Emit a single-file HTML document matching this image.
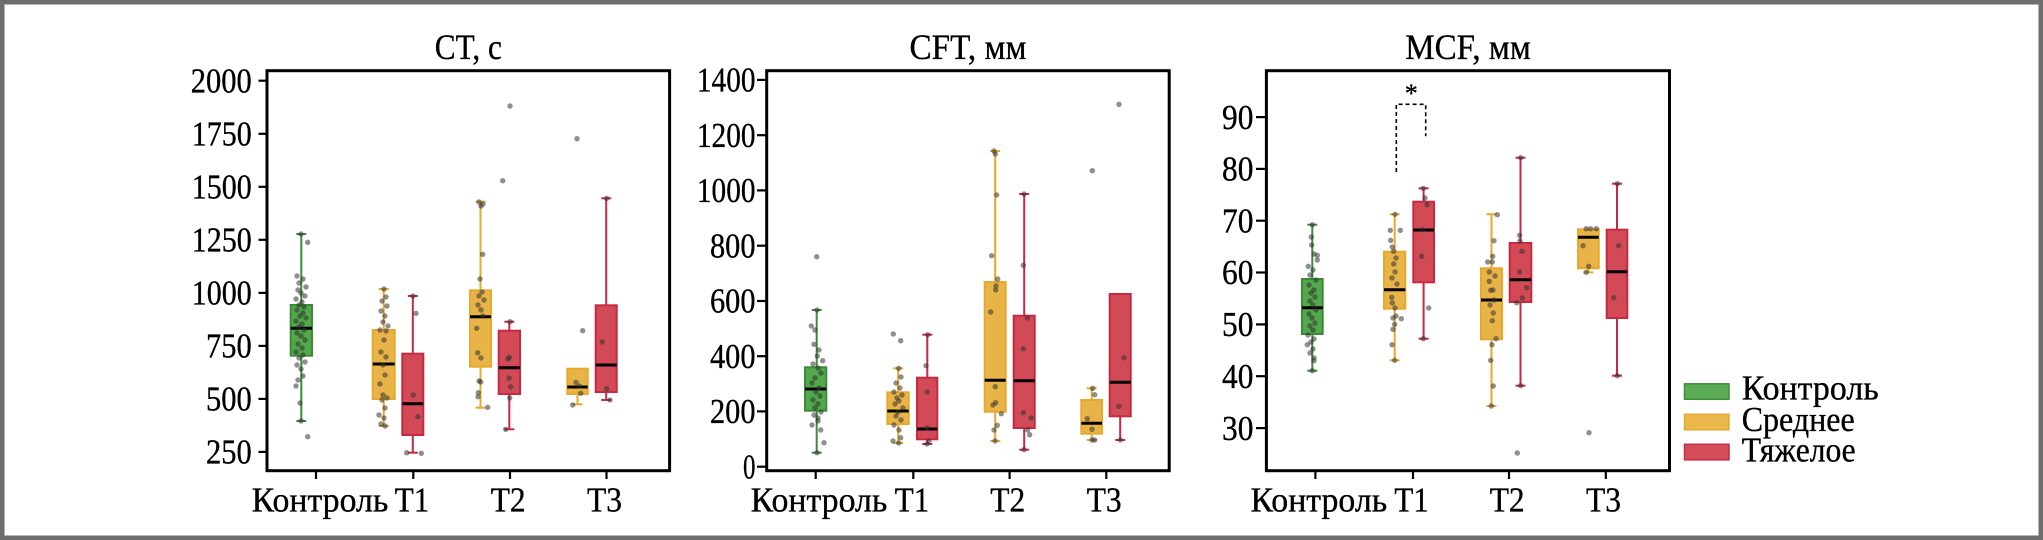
<!DOCTYPE html>
<html>
<head>
<meta charset="utf-8">
<style>
  html,body{margin:0;padding:0;background:#ffffff;}
  svg{display:block;font-family:"Times New Roman","Liberation Serif","DejaVu Serif","Noto Serif CJK SC",serif;}
  svg text{font-family:"Times New Roman","Liberation Serif","DejaVu Serif","Noto Serif CJK SC",serif !important;fill:#000;stroke:#000;stroke-width:0.35px;}
</style>
</head>
<body>
<svg width="2043" height="540" viewBox="0 0 2043 540" xmlns="http://www.w3.org/2000/svg">
  <rect x="0" y="0" width="2043" height="540" fill="#ffffff"/>
  <rect x="2.25" y="2.25" width="2038.5" height="535.5" fill="none" stroke="#6e6e6e" stroke-width="4.5"/>

  <!-- TITLES -->
  <text x="468.3" y="59.2" font-size="36" text-anchor="middle" textLength="67" lengthAdjust="spacingAndGlyphs">CT, с</text>
  <text x="968" y="59.2" font-size="36" text-anchor="middle" textLength="117" lengthAdjust="spacingAndGlyphs">CFT, мм</text>
  <text x="1468" y="59.2" font-size="36" text-anchor="middle" textLength="125.5" lengthAdjust="spacingAndGlyphs">MCF, мм</text>

  <!-- CT PLOT -->
  <g id="ct">
    <g stroke="#000" stroke-width="2.2">
      <line x1="258.5" y1="80.7" x2="267" y2="80.7"/>
      <line x1="258.5" y1="133.8" x2="267" y2="133.8"/>
      <line x1="258.5" y1="186.8" x2="267" y2="186.8"/>
      <line x1="258.5" y1="239.8" x2="267" y2="239.8"/>
      <line x1="258.5" y1="292.9" x2="267" y2="292.9"/>
      <line x1="258.5" y1="345.9" x2="267" y2="345.9"/>
      <line x1="258.5" y1="398.9" x2="267" y2="398.9"/>
      <line x1="258.5" y1="451.9" x2="267" y2="451.9"/>
      <line x1="316" y1="470.5" x2="316" y2="479"/>
      <line x1="413.3" y1="470.5" x2="413.3" y2="479"/>
      <line x1="510" y1="470.5" x2="510" y2="479"/>
      <line x1="606.5" y1="470.5" x2="606.5" y2="479"/>
    </g>
    <g font-size="35" text-anchor="end">
      <text x="251.7" y="92.4" textLength="61" lengthAdjust="spacingAndGlyphs">2000</text>
      <text x="251.7" y="145.5" textLength="60" lengthAdjust="spacingAndGlyphs">1750</text>
      <text x="251.7" y="198.5" textLength="60" lengthAdjust="spacingAndGlyphs">1500</text>
      <text x="251.7" y="251.5" textLength="60" lengthAdjust="spacingAndGlyphs">1250</text>
      <text x="251.7" y="304.6" textLength="60" lengthAdjust="spacingAndGlyphs">1000</text>
      <text x="251.7" y="357.6" textLength="45.7" lengthAdjust="spacingAndGlyphs">750</text>
      <text x="251.7" y="410.6" textLength="45.7" lengthAdjust="spacingAndGlyphs">500</text>
      <text x="251.7" y="463.6" textLength="45.7" lengthAdjust="spacingAndGlyphs">250</text>
    </g>
    <g font-size="35" text-anchor="middle">
      <text x="320" y="511.7" textLength="136.7" lengthAdjust="spacingAndGlyphs">Контроль</text>
      <text x="412" y="511.7" textLength="34.5" lengthAdjust="spacingAndGlyphs">T1</text>
      <text x="508.2" y="511.7" textLength="35" lengthAdjust="spacingAndGlyphs">T2</text>
      <text x="604.5" y="511.7" textLength="35" lengthAdjust="spacingAndGlyphs">T3</text>
    </g>

    <g stroke="#3c8c37" stroke-width="2">
      <line x1="301.3" y1="234" x2="301.3" y2="305"/>
      <line x1="301.3" y1="355.7" x2="301.3" y2="421"/>
      <line x1="296.3" y1="234" x2="306.3" y2="234"/>
      <line x1="296.3" y1="421" x2="306.3" y2="421"/>
      <rect x="290.7" y="305" width="21.3" height="50.7" fill="#52a84b"/>
    </g>
    <line x1="290.7" y1="328.3" x2="312" y2="328.3" stroke="#000" stroke-width="3"/>
    <g stroke="#e6a92e" stroke-width="2">
      <line x1="383.7" y1="289" x2="383.7" y2="330"/>
      <line x1="383.7" y1="399" x2="383.7" y2="426"/>
      <line x1="378.7" y1="289" x2="388.7" y2="289"/>
      <line x1="378.7" y1="426" x2="388.7" y2="426"/>
      <rect x="372.7" y="330" width="22" height="69" fill="#e9b447"/>
    </g>
    <line x1="372.7" y1="364" x2="394.7" y2="364" stroke="#000" stroke-width="3"/>
    <g stroke="#c52a42" stroke-width="2">
      <line x1="412.8" y1="296" x2="412.8" y2="353.7"/>
      <line x1="412.8" y1="435" x2="412.8" y2="452.7"/>
      <line x1="407.8" y1="296" x2="417.8" y2="296"/>
      <line x1="407.8" y1="452.7" x2="417.8" y2="452.7"/>
      <rect x="402.3" y="353.7" width="21" height="81.3" fill="#d14a55"/>
    </g>
    <line x1="402.3" y1="403.7" x2="423.3" y2="403.7" stroke="#000" stroke-width="3"/>
    <g stroke="#e6a92e" stroke-width="2">
      <line x1="480.5" y1="201.7" x2="480.5" y2="290.3"/>
      <line x1="480.5" y1="366.7" x2="480.5" y2="407.7"/>
      <line x1="475.5" y1="201.7" x2="485.5" y2="201.7"/>
      <line x1="475.5" y1="407.7" x2="485.5" y2="407.7"/>
      <rect x="470" y="290.3" width="21" height="76.4" fill="#e9b447"/>
    </g>
    <line x1="470" y1="316.7" x2="491" y2="316.7" stroke="#000" stroke-width="3"/>
    <g stroke="#c52a42" stroke-width="2">
      <line x1="509.3" y1="321.7" x2="509.3" y2="330.7"/>
      <line x1="509.3" y1="394" x2="509.3" y2="429.3"/>
      <line x1="504.3" y1="321.7" x2="514.3" y2="321.7"/>
      <line x1="504.3" y1="429.3" x2="514.3" y2="429.3"/>
      <rect x="498.7" y="330.7" width="21.3" height="63.3" fill="#d14a55"/>
    </g>
    <line x1="498.7" y1="367.7" x2="520" y2="367.7" stroke="#000" stroke-width="3"/>
    <g stroke="#e6a92e" stroke-width="2">
      <line x1="577.5" y1="394" x2="577.5" y2="404.3"/>
      <line x1="572.5" y1="404.3" x2="582.5" y2="404.3"/>
      <rect x="567.3" y="368.7" width="20.4" height="25.3" fill="#e9b447"/>
    </g>
    <line x1="567.3" y1="387" x2="587.7" y2="387" stroke="#000" stroke-width="3"/>
    <g stroke="#c52a42" stroke-width="2">
      <line x1="606.2" y1="198.3" x2="606.2" y2="305.3"/>
      <line x1="606.2" y1="392" x2="606.2" y2="400"/>
      <line x1="601.2" y1="198.3" x2="611.2" y2="198.3"/>
      <line x1="601.2" y1="400" x2="611.2" y2="400"/>
      <rect x="595.7" y="305.3" width="21" height="86.7" fill="#d14a55"/>
    </g>
    <line x1="595.7" y1="365" x2="616.7" y2="365" stroke="#000" stroke-width="3"/>

    <g fill="#333333" fill-opacity="0.55">
      <circle cx="307.7" cy="242.3" r="2.7"/><circle cx="301" cy="234" r="2.7"/><circle cx="297" cy="276" r="2.7"/><circle cx="303" cy="279" r="2.7"/><circle cx="299" cy="283" r="2.7"/><circle cx="306" cy="287" r="2.7"/><circle cx="298" cy="290" r="2.7"/><circle cx="301" cy="293" r="2.7"/><circle cx="305" cy="296" r="2.7"/><circle cx="296" cy="299" r="2.7"/><circle cx="302" cy="302" r="2.7"/><circle cx="299" cy="305" r="2.7"/><circle cx="304" cy="307" r="2.7"/><circle cx="297" cy="310" r="2.7"/><circle cx="303" cy="313" r="2.7"/><circle cx="300" cy="316" r="2.7"/><circle cx="306" cy="318" r="2.7"/><circle cx="296" cy="321" r="2.7"/><circle cx="302" cy="324" r="2.7"/><circle cx="299" cy="327" r="2.7"/><circle cx="304" cy="330" r="2.7"/><circle cx="297" cy="333" r="2.7"/><circle cx="301" cy="336" r="2.7"/><circle cx="305" cy="340" r="2.7"/><circle cx="298" cy="344" r="2.7"/><circle cx="302" cy="348" r="2.7"/><circle cx="296" cy="352" r="2.7"/><circle cx="303" cy="355" r="2.7"/><circle cx="299" cy="358" r="2.7"/><circle cx="305" cy="362" r="2.7"/><circle cx="297" cy="365" r="2.7"/><circle cx="301" cy="369" r="2.7"/><circle cx="303" cy="376" r="2.7"/><circle cx="298" cy="380" r="2.7"/><circle cx="296" cy="386" r="2.7"/><circle cx="300" cy="403" r="2.7"/><circle cx="301" cy="421" r="2.7"/><circle cx="307.7" cy="436.7" r="2.7"/>
      <circle cx="384" cy="289" r="2.7"/><circle cx="386" cy="297" r="2.7"/><circle cx="382" cy="301" r="2.7"/><circle cx="387" cy="306" r="2.7"/><circle cx="381" cy="311" r="2.7"/><circle cx="385" cy="316" r="2.7"/><circle cx="383" cy="322" r="2.7"/><circle cx="388" cy="326" r="2.7"/><circle cx="380" cy="330" r="2.7"/><circle cx="386" cy="331" r="2.7"/><circle cx="384" cy="340" r="2.7"/><circle cx="381" cy="352" r="2.7"/><circle cx="386" cy="357" r="2.7"/><circle cx="383" cy="365" r="2.7"/><circle cx="385" cy="375" r="2.7"/><circle cx="380" cy="384" r="2.7"/><circle cx="383" cy="395" r="2.7"/><circle cx="387" cy="398" r="2.7"/><circle cx="382" cy="400" r="2.7"/><circle cx="385" cy="408" r="2.7"/><circle cx="379" cy="415" r="2.7"/><circle cx="384" cy="418" r="2.7"/><circle cx="381" cy="424" r="2.7"/><circle cx="385" cy="426" r="2.7"/>
      <circle cx="413" cy="296" r="2.7"/><circle cx="416" cy="313.3" r="2.7"/><circle cx="413.3" cy="395" r="2.7"/><circle cx="418" cy="416.7" r="2.7"/><circle cx="406.7" cy="452.7" r="2.7"/><circle cx="421.3" cy="453.3" r="2.7"/>
      <circle cx="479" cy="202" r="2.7"/><circle cx="483" cy="204" r="2.7"/><circle cx="481" cy="206" r="2.7"/><circle cx="482.7" cy="254.3" r="2.7"/><circle cx="480" cy="279" r="2.7"/><circle cx="482" cy="292" r="2.7"/><circle cx="479" cy="296" r="2.7"/><circle cx="484" cy="300" r="2.7"/><circle cx="478" cy="305" r="2.7"/><circle cx="481" cy="310" r="2.7"/><circle cx="483" cy="316" r="2.7"/><circle cx="476.7" cy="328.3" r="2.7"/><circle cx="477.7" cy="352.7" r="2.7"/><circle cx="481" cy="358" r="2.7"/><circle cx="479" cy="381" r="2.7"/><circle cx="480.7" cy="382" r="2.7"/><circle cx="478.3" cy="392.7" r="2.7"/><circle cx="478" cy="396.7" r="2.7"/><circle cx="487.7" cy="407.3" r="2.7"/>
      <circle cx="510" cy="106" r="2.7"/><circle cx="502.7" cy="180.7" r="2.7"/><circle cx="510" cy="321.7" r="2.7"/><circle cx="509.3" cy="357.3" r="2.7"/><circle cx="508" cy="359" r="2.7"/><circle cx="509" cy="378" r="2.7"/><circle cx="510.7" cy="387" r="2.7"/><circle cx="509.7" cy="398" r="2.7"/><circle cx="505.7" cy="429.3" r="2.7"/>
      <circle cx="577" cy="138.7" r="2.7"/><circle cx="582.7" cy="330.7" r="2.7"/><circle cx="576" cy="382.3" r="2.7"/><circle cx="579.3" cy="386" r="2.7"/><circle cx="580.7" cy="393.3" r="2.7"/><circle cx="572.7" cy="405" r="2.7"/>
      <circle cx="606.7" cy="198.3" r="2.7"/><circle cx="602.3" cy="342" r="2.7"/><circle cx="606.7" cy="388.7" r="2.7"/><circle cx="610" cy="400" r="2.7"/>
    </g>
    <rect x="267" y="70.7" width="402.6" height="400" fill="none" stroke="#000" stroke-width="3"/>
  </g>

  <!-- CFT PLOT -->
  <g id="cft">
    <g stroke="#000" stroke-width="2.2">
      <line x1="757" y1="79.9" x2="766.7" y2="79.9"/>
      <line x1="757" y1="135.2" x2="766.7" y2="135.2"/>
      <line x1="757" y1="190.4" x2="766.7" y2="190.4"/>
      <line x1="757" y1="245.7" x2="766.7" y2="245.7"/>
      <line x1="757" y1="301" x2="766.7" y2="301"/>
      <line x1="757" y1="356.2" x2="766.7" y2="356.2"/>
      <line x1="757" y1="411.4" x2="766.7" y2="411.4"/>
      <line x1="757" y1="466.7" x2="766.7" y2="466.7"/>
      <line x1="815.7" y1="470.5" x2="815.7" y2="479"/>
      <line x1="913.3" y1="470.5" x2="913.3" y2="479"/>
      <line x1="1009.6" y1="470.5" x2="1009.6" y2="479"/>
      <line x1="1106.3" y1="470.5" x2="1106.3" y2="479"/>
    </g>
    <g font-size="35" text-anchor="end">
      <text x="755.5" y="91.6" textLength="58.6" lengthAdjust="spacingAndGlyphs">1400</text>
      <text x="755.5" y="146.9" textLength="58.6" lengthAdjust="spacingAndGlyphs">1200</text>
      <text x="755.5" y="202.1" textLength="58.6" lengthAdjust="spacingAndGlyphs">1000</text>
      <text x="755.5" y="257.4" textLength="45.5" lengthAdjust="spacingAndGlyphs">800</text>
      <text x="755.5" y="312.7" textLength="45.5" lengthAdjust="spacingAndGlyphs">600</text>
      <text x="755.5" y="367.9" textLength="45.5" lengthAdjust="spacingAndGlyphs">400</text>
      <text x="755.5" y="423.1" textLength="45.5" lengthAdjust="spacingAndGlyphs">200</text>
      <text x="755.5" y="478.4" textLength="12.5" lengthAdjust="spacingAndGlyphs">0</text>
    </g>
    <g font-size="35" text-anchor="middle">
      <text x="819" y="511.7" textLength="136.7" lengthAdjust="spacingAndGlyphs">Контроль</text>
      <text x="912" y="511.7" textLength="34.5" lengthAdjust="spacingAndGlyphs">T1</text>
      <text x="1007.8" y="511.7" textLength="35" lengthAdjust="spacingAndGlyphs">T2</text>
      <text x="1104.2" y="511.7" textLength="35" lengthAdjust="spacingAndGlyphs">T3</text>
    </g>

    <g stroke="#3c8c37" stroke-width="2">
      <line x1="816.7" y1="310" x2="816.7" y2="367.3"/>
      <line x1="816.7" y1="410.7" x2="816.7" y2="452.7"/>
      <line x1="811.7" y1="310" x2="821.7" y2="310"/>
      <line x1="811.7" y1="452.7" x2="821.7" y2="452.7"/>
      <rect x="805" y="367.3" width="21.3" height="43.4" fill="#52a84b"/>
    </g>
    <line x1="805" y1="389" x2="826.3" y2="389" stroke="#000" stroke-width="3"/>
    <g stroke="#e6a92e" stroke-width="2">
      <line x1="898.2" y1="368.3" x2="898.2" y2="392.3"/>
      <line x1="898.2" y1="424" x2="898.2" y2="443"/>
      <line x1="893.2" y1="368.3" x2="903.2" y2="368.3"/>
      <line x1="893.2" y1="443" x2="903.2" y2="443"/>
      <rect x="887.3" y="392.3" width="21.4" height="31.7" fill="#e9b447"/>
    </g>
    <line x1="887.3" y1="411" x2="908.7" y2="411" stroke="#000" stroke-width="3"/>
    <g stroke="#c52a42" stroke-width="2">
      <line x1="927.3" y1="334.7" x2="927.3" y2="377.7"/>
      <line x1="927.3" y1="439.3" x2="927.3" y2="444"/>
      <line x1="922.3" y1="334.7" x2="932.3" y2="334.7"/>
      <line x1="922.3" y1="444" x2="932.3" y2="444"/>
      <rect x="917" y="377.7" width="20.3" height="61.6" fill="#d14a55"/>
    </g>
    <line x1="917" y1="429" x2="937.3" y2="429" stroke="#000" stroke-width="3"/>
    <g stroke="#e6a92e" stroke-width="2">
      <line x1="995.2" y1="151" x2="995.2" y2="282"/>
      <line x1="995.2" y1="411.7" x2="995.2" y2="441"/>
      <line x1="990.2" y1="151" x2="1000.2" y2="151"/>
      <line x1="990.2" y1="441" x2="1000.2" y2="441"/>
      <rect x="984.7" y="282" width="21" height="129.7" fill="#e9b447"/>
    </g>
    <line x1="984.7" y1="380.3" x2="1005.7" y2="380.3" stroke="#000" stroke-width="3"/>
    <g stroke="#c52a42" stroke-width="2">
      <line x1="1024.2" y1="194" x2="1024.2" y2="315.7"/>
      <line x1="1024.2" y1="428" x2="1024.2" y2="449.7"/>
      <line x1="1019.2" y1="194" x2="1029.2" y2="194"/>
      <line x1="1019.2" y1="449.7" x2="1029.2" y2="449.7"/>
      <rect x="1013.7" y="315.7" width="21" height="112.3" fill="#d14a55"/>
    </g>
    <line x1="1013.7" y1="380.7" x2="1034.7" y2="380.7" stroke="#000" stroke-width="3"/>
    <g stroke="#e6a92e" stroke-width="2">
      <line x1="1091.7" y1="388.3" x2="1091.7" y2="400"/>
      <line x1="1091.7" y1="433.7" x2="1091.7" y2="440"/>
      <line x1="1086.7" y1="388.3" x2="1096.7" y2="388.3"/>
      <line x1="1086.7" y1="440" x2="1096.7" y2="440"/>
      <rect x="1081.3" y="400" width="20.7" height="33.7" fill="#e9b447"/>
    </g>
    <line x1="1081.3" y1="423.3" x2="1102" y2="423.3" stroke="#000" stroke-width="3"/>
    <g stroke="#c52a42" stroke-width="2">
      <line x1="1120.2" y1="416.3" x2="1120.2" y2="440"/>
      <line x1="1115.2" y1="440" x2="1125.2" y2="440"/>
      <rect x="1109.7" y="294" width="21" height="122.3" fill="#d14a55"/>
    </g>
    <line x1="1109.7" y1="382.3" x2="1130.7" y2="382.3" stroke="#000" stroke-width="3"/>

    <g fill="#333333" fill-opacity="0.55">
      <circle cx="816.7" cy="256.7" r="2.7"/><circle cx="817" cy="310" r="2.7"/><circle cx="811.3" cy="326" r="2.7"/><circle cx="815" cy="330" r="2.7"/><circle cx="814" cy="344.3" r="2.7"/><circle cx="819" cy="350" r="2.7"/><circle cx="817.3" cy="356" r="2.7"/><circle cx="822.7" cy="360.7" r="2.7"/><circle cx="813" cy="364" r="2.7"/><circle cx="818" cy="368" r="2.7"/><circle cx="821" cy="373" r="2.7"/><circle cx="815" cy="378" r="2.7"/><circle cx="812" cy="383" r="2.7"/><circle cx="819" cy="388" r="2.7"/><circle cx="816" cy="392" r="2.7"/><circle cx="820" cy="396" r="2.7"/><circle cx="813" cy="400" r="2.7"/><circle cx="818" cy="404" r="2.7"/><circle cx="815" cy="408" r="2.7"/><circle cx="821" cy="412" r="2.7"/><circle cx="814" cy="415" r="2.7"/><circle cx="818" cy="418" r="2.7"/><circle cx="818" cy="421" r="2.7"/><circle cx="812" cy="425" r="2.7"/><circle cx="820.7" cy="430" r="2.7"/><circle cx="824" cy="442.7" r="2.7"/><circle cx="817" cy="452.7" r="2.7"/>
      <circle cx="893.3" cy="334" r="2.7"/><circle cx="900.7" cy="340.7" r="2.7"/><circle cx="898.7" cy="368.3" r="2.7"/><circle cx="901" cy="377" r="2.7"/><circle cx="896" cy="383" r="2.7"/><circle cx="900" cy="388" r="2.7"/><circle cx="894" cy="392" r="2.7"/><circle cx="902" cy="395" r="2.7"/><circle cx="897" cy="398" r="2.7"/><circle cx="899" cy="401" r="2.7"/><circle cx="895" cy="404" r="2.7"/><circle cx="903" cy="408" r="2.7"/><circle cx="898" cy="412" r="2.7"/><circle cx="896" cy="416" r="2.7"/><circle cx="901" cy="420" r="2.7"/><circle cx="894" cy="425" r="2.7"/><circle cx="899" cy="430" r="2.7"/><circle cx="900.7" cy="437.7" r="2.7"/><circle cx="893" cy="441" r="2.7"/><circle cx="898.7" cy="443" r="2.7"/>
      <circle cx="927.7" cy="334.7" r="2.7"/><circle cx="926" cy="365.7" r="2.7"/><circle cx="927.3" cy="392" r="2.7"/><circle cx="927" cy="428" r="2.7"/><circle cx="929" cy="441" r="2.7"/><circle cx="927" cy="444" r="2.7"/>
      <circle cx="994" cy="151" r="2.7"/><circle cx="995.3" cy="154" r="2.7"/><circle cx="996.7" cy="195" r="2.7"/><circle cx="991.7" cy="255.7" r="2.7"/><circle cx="997.7" cy="279" r="2.7"/><circle cx="996" cy="286" r="2.7"/><circle cx="995.7" cy="290" r="2.7"/><circle cx="990.7" cy="312" r="2.7"/><circle cx="995.3" cy="386.7" r="2.7"/><circle cx="995.7" cy="402.7" r="2.7"/><circle cx="993" cy="405" r="2.7"/><circle cx="1001.3" cy="413.7" r="2.7"/><circle cx="997.3" cy="425.3" r="2.7"/><circle cx="994" cy="430" r="2.7"/><circle cx="995" cy="441" r="2.7"/>
      <circle cx="1024" cy="194" r="2.7"/><circle cx="1023.3" cy="265.3" r="2.7"/><circle cx="1027.3" cy="318" r="2.7"/><circle cx="1023.3" cy="348.7" r="2.7"/><circle cx="1023.3" cy="412.7" r="2.7"/><circle cx="1031" cy="418" r="2.7"/><circle cx="1027.7" cy="430" r="2.7"/><circle cx="1029.7" cy="434.7" r="2.7"/><circle cx="1024" cy="449.7" r="2.7"/>
      <circle cx="1092.3" cy="170.7" r="2.7"/><circle cx="1092.7" cy="388.3" r="2.7"/><circle cx="1094.7" cy="394.7" r="2.7"/><circle cx="1087.3" cy="418.7" r="2.7"/><circle cx="1092" cy="429.3" r="2.7"/><circle cx="1094.7" cy="440" r="2.7"/><circle cx="1092" cy="440" r="2.7"/>
      <circle cx="1119" cy="104.3" r="2.7"/><circle cx="1124" cy="357.7" r="2.7"/><circle cx="1119" cy="406.3" r="2.7"/><circle cx="1120.3" cy="440" r="2.7"/>
    </g>
    <rect x="766.7" y="70.7" width="402.5" height="400" fill="none" stroke="#000" stroke-width="3"/>
  </g>

  <!-- MCF PLOT -->
  <g id="mcf">
    <g stroke="#000" stroke-width="2.2">
      <line x1="1256" y1="117.1" x2="1266.4" y2="117.1"/>
      <line x1="1256" y1="168.9" x2="1266.4" y2="168.9"/>
      <line x1="1256" y1="220.7" x2="1266.4" y2="220.7"/>
      <line x1="1256" y1="272.5" x2="1266.4" y2="272.5"/>
      <line x1="1256" y1="324.4" x2="1266.4" y2="324.4"/>
      <line x1="1256" y1="376.2" x2="1266.4" y2="376.2"/>
      <line x1="1256" y1="428.1" x2="1266.4" y2="428.1"/>
      <line x1="1315.4" y1="470.5" x2="1315.4" y2="479"/>
      <line x1="1413" y1="470.5" x2="1413" y2="479"/>
      <line x1="1509" y1="470.5" x2="1509" y2="479"/>
      <line x1="1605.8" y1="470.5" x2="1605.8" y2="479"/>
    </g>
    <g font-size="35" text-anchor="end">
      <text x="1253.4" y="128.8" textLength="31.4" lengthAdjust="spacingAndGlyphs">90</text>
      <text x="1253.4" y="180.6" textLength="31.4" lengthAdjust="spacingAndGlyphs">80</text>
      <text x="1253.4" y="232.4" textLength="31.4" lengthAdjust="spacingAndGlyphs">70</text>
      <text x="1253.4" y="284.2" textLength="31.4" lengthAdjust="spacingAndGlyphs">60</text>
      <text x="1253.4" y="336.1" textLength="31.4" lengthAdjust="spacingAndGlyphs">50</text>
      <text x="1253.4" y="387.9" textLength="31.4" lengthAdjust="spacingAndGlyphs">40</text>
      <text x="1253.4" y="439.8" textLength="31.4" lengthAdjust="spacingAndGlyphs">30</text>
    </g>
    <g font-size="35" text-anchor="middle">
      <text x="1318.8" y="511.7" textLength="136.7" lengthAdjust="spacingAndGlyphs">Контроль</text>
      <text x="1411.6" y="511.7" textLength="34.5" lengthAdjust="spacingAndGlyphs">T1</text>
      <text x="1507.2" y="511.7" textLength="35" lengthAdjust="spacingAndGlyphs">T2</text>
      <text x="1603.5" y="511.7" textLength="35" lengthAdjust="spacingAndGlyphs">T3</text>
    </g>

    <g stroke="#3c8c37" stroke-width="2">
      <line x1="1312.3" y1="224.7" x2="1312.3" y2="279"/>
      <line x1="1312.3" y1="334" x2="1312.3" y2="370.7"/>
      <line x1="1307.3" y1="224.7" x2="1317.3" y2="224.7"/>
      <line x1="1307.3" y1="370.7" x2="1317.3" y2="370.7"/>
      <rect x="1302" y="279" width="20.7" height="55" fill="#52a84b"/>
    </g>
    <line x1="1302" y1="307.7" x2="1322.7" y2="307.7" stroke="#000" stroke-width="3"/>
    <g stroke="#e6a92e" stroke-width="2">
      <line x1="1394.7" y1="214.3" x2="1394.7" y2="251.7"/>
      <line x1="1394.7" y1="308.7" x2="1394.7" y2="360.3"/>
      <line x1="1389.7" y1="214.3" x2="1399.7" y2="214.3"/>
      <line x1="1389.7" y1="360.3" x2="1399.7" y2="360.3"/>
      <rect x="1384" y="251.7" width="21.3" height="57" fill="#e9b447"/>
    </g>
    <line x1="1384" y1="289.7" x2="1405.3" y2="289.7" stroke="#000" stroke-width="3"/>
    <g stroke="#c52a42" stroke-width="2">
      <line x1="1423.6" y1="188.3" x2="1423.6" y2="201.7"/>
      <line x1="1423.6" y1="282.3" x2="1423.6" y2="338.7"/>
      <line x1="1418.6" y1="188.3" x2="1428.6" y2="188.3"/>
      <line x1="1418.6" y1="338.7" x2="1428.6" y2="338.7"/>
      <rect x="1413.3" y="201.7" width="20.7" height="80.6" fill="#d14a55"/>
    </g>
    <line x1="1413.3" y1="230" x2="1434" y2="230" stroke="#000" stroke-width="3"/>
    <g stroke="#e6a92e" stroke-width="2">
      <line x1="1491.5" y1="214.3" x2="1491.5" y2="268.3"/>
      <line x1="1491.5" y1="339.3" x2="1491.5" y2="406"/>
      <line x1="1486.5" y1="214.3" x2="1496.5" y2="214.3"/>
      <line x1="1486.5" y1="406" x2="1496.5" y2="406"/>
      <rect x="1481" y="268.3" width="21" height="71" fill="#e9b447"/>
    </g>
    <line x1="1481" y1="300" x2="1502" y2="300" stroke="#000" stroke-width="3"/>
    <g stroke="#c52a42" stroke-width="2">
      <line x1="1520.5" y1="157.7" x2="1520.5" y2="243"/>
      <line x1="1520.5" y1="302" x2="1520.5" y2="385.7"/>
      <line x1="1515.5" y1="157.7" x2="1525.5" y2="157.7"/>
      <line x1="1515.5" y1="385.7" x2="1525.5" y2="385.7"/>
      <rect x="1509.7" y="243" width="21.6" height="59" fill="#d14a55"/>
    </g>
    <line x1="1509.7" y1="279.7" x2="1531.3" y2="279.7" stroke="#000" stroke-width="3"/>
    <g stroke="#e6a92e" stroke-width="2">
      <line x1="1588.3" y1="268.3" x2="1588.3" y2="272.3"/>
      <line x1="1583.3" y1="272.3" x2="1593.3" y2="272.3"/>
      <rect x="1578" y="229.3" width="20.7" height="39" fill="#e9b447"/>
    </g>
    <line x1="1578" y1="237.3" x2="1598.7" y2="237.3" stroke="#000" stroke-width="3"/>
    <g stroke="#c52a42" stroke-width="2">
      <line x1="1617" y1="183.7" x2="1617" y2="229.7"/>
      <line x1="1617" y1="318" x2="1617" y2="375.7"/>
      <line x1="1612" y1="183.7" x2="1622" y2="183.7"/>
      <line x1="1612" y1="375.7" x2="1622" y2="375.7"/>
      <rect x="1606.7" y="229.7" width="20.6" height="88.3" fill="#d14a55"/>
    </g>
    <line x1="1606.7" y1="271.7" x2="1627.3" y2="271.7" stroke="#000" stroke-width="3"/>

    <g fill="#333333" fill-opacity="0.55">
      <circle cx="1312.3" cy="224.7" r="2.7"/><circle cx="1311.3" cy="237" r="2.7"/><circle cx="1311.7" cy="245" r="2.7"/><circle cx="1314" cy="254" r="2.7"/><circle cx="1317.3" cy="255.3" r="2.7"/><circle cx="1317.3" cy="260" r="2.7"/><circle cx="1308.3" cy="266.3" r="2.7"/><circle cx="1313" cy="270" r="2.7"/><circle cx="1310" cy="275" r="2.7"/><circle cx="1316" cy="280" r="2.7"/><circle cx="1309" cy="285" r="2.7"/><circle cx="1314" cy="290" r="2.7"/><circle cx="1311" cy="293" r="2.7"/><circle cx="1315" cy="297" r="2.7"/><circle cx="1310" cy="301" r="2.7"/><circle cx="1313" cy="305" r="2.7"/><circle cx="1316" cy="310" r="2.7"/><circle cx="1309" cy="314" r="2.7"/><circle cx="1312" cy="318" r="2.7"/><circle cx="1315" cy="323" r="2.7"/><circle cx="1310" cy="326" r="2.7"/><circle cx="1313" cy="330" r="2.7"/><circle cx="1308" cy="335" r="2.7"/><circle cx="1314" cy="339" r="2.7"/><circle cx="1311" cy="342" r="2.7"/><circle cx="1307.3" cy="344.7" r="2.7"/><circle cx="1313" cy="349" r="2.7"/><circle cx="1310" cy="353" r="2.7"/><circle cx="1314" cy="358" r="2.7"/><circle cx="1314" cy="360.7" r="2.7"/><circle cx="1312.3" cy="370.7" r="2.7"/>
      <circle cx="1395" cy="214.3" r="2.7"/><circle cx="1390.3" cy="230.3" r="2.7"/><circle cx="1400.3" cy="230.3" r="2.7"/><circle cx="1390.7" cy="240.3" r="2.7"/><circle cx="1392.3" cy="247" r="2.7"/><circle cx="1393.7" cy="251.3" r="2.7"/><circle cx="1396" cy="258" r="2.7"/><circle cx="1393.7" cy="264" r="2.7"/><circle cx="1395" cy="272" r="2.7"/><circle cx="1392" cy="278" r="2.7"/><circle cx="1397" cy="284" r="2.7"/><circle cx="1391.7" cy="297.3" r="2.7"/><circle cx="1392.3" cy="302.7" r="2.7"/><circle cx="1395" cy="308" r="2.7"/><circle cx="1396" cy="316" r="2.7"/><circle cx="1393" cy="318" r="2.7"/><circle cx="1401.3" cy="318.7" r="2.7"/><circle cx="1394.7" cy="324.3" r="2.7"/><circle cx="1393" cy="329.3" r="2.7"/><circle cx="1392" cy="344.7" r="2.7"/><circle cx="1394.7" cy="360.3" r="2.7"/>
      <circle cx="1423.3" cy="188.3" r="2.7"/><circle cx="1425" cy="198" r="2.7"/><circle cx="1427" cy="204.7" r="2.7"/><circle cx="1422.7" cy="229.7" r="2.7"/><circle cx="1421.7" cy="256.3" r="2.7"/><circle cx="1428.7" cy="308" r="2.7"/><circle cx="1423.3" cy="338.7" r="2.7"/>
      <circle cx="1497.3" cy="214.7" r="2.7"/><circle cx="1494" cy="240.7" r="2.7"/><circle cx="1492.7" cy="256.3" r="2.7"/><circle cx="1487.7" cy="262" r="2.7"/><circle cx="1492.3" cy="262" r="2.7"/><circle cx="1489.3" cy="272" r="2.7"/><circle cx="1495" cy="276" r="2.7"/><circle cx="1489.3" cy="281.3" r="2.7"/><circle cx="1493" cy="290" r="2.7"/><circle cx="1490.7" cy="290.3" r="2.7"/><circle cx="1494" cy="300" r="2.7"/><circle cx="1493.3" cy="313" r="2.7"/><circle cx="1490" cy="305" r="2.7"/><circle cx="1492.3" cy="320.7" r="2.7"/><circle cx="1496" cy="338.7" r="2.7"/><circle cx="1492" cy="344.7" r="2.7"/><circle cx="1490.7" cy="360.3" r="2.7"/><circle cx="1493.3" cy="386" r="2.7"/><circle cx="1491.3" cy="406" r="2.7"/>
      <circle cx="1520.7" cy="157.7" r="2.7"/><circle cx="1519.7" cy="235.3" r="2.7"/><circle cx="1520" cy="241" r="2.7"/><circle cx="1522" cy="251.3" r="2.7"/><circle cx="1519.7" cy="272" r="2.7"/><circle cx="1526.7" cy="287.7" r="2.7"/><circle cx="1522.3" cy="298" r="2.7"/><circle cx="1516.7" cy="302.7" r="2.7"/><circle cx="1520.7" cy="385.7" r="2.7"/><circle cx="1517.3" cy="453" r="2.7"/>
      <circle cx="1586.3" cy="228.7" r="2.7"/><circle cx="1590.7" cy="228.7" r="2.7"/><circle cx="1596.3" cy="228.7" r="2.7"/><circle cx="1583" cy="245.7" r="2.7"/><circle cx="1588.7" cy="266.3" r="2.7"/><circle cx="1586.3" cy="272.3" r="2.7"/><circle cx="1589" cy="432.7" r="2.7"/>
      <circle cx="1617.3" cy="183.7" r="2.7"/><circle cx="1618.7" cy="245.7" r="2.7"/><circle cx="1613.7" cy="297.7" r="2.7"/><circle cx="1617.3" cy="375.7" r="2.7"/>
    </g>

    <path d="M1396.3 172 V104.3 H1425.7 V136.3" fill="none" stroke="#000" stroke-width="1.6" stroke-dasharray="4 3"/>
    <text x="1411.3" y="102" font-size="26" text-anchor="middle">*</text>

    <rect x="1266.4" y="70.7" width="403.1" height="400" fill="none" stroke="#000" stroke-width="3"/>
  </g>

  <!-- LEGEND -->
  <g>
    <rect x="1684.5" y="383.8" width="44.5" height="15.5" fill="#5aab54" stroke="#3f8c3a" stroke-width="1.5"/>
    <rect x="1684.5" y="414.3" width="44.5" height="15.5" fill="#ebb84c" stroke="#e3aa35" stroke-width="1.5"/>
    <rect x="1684.5" y="444.3" width="44.5" height="15.5" fill="#d34e59" stroke="#c32c42" stroke-width="1.5"/>
    <g font-size="35">
      <text x="1741.7" y="399.5" textLength="137" lengthAdjust="spacingAndGlyphs">Контроль</text>
      <text x="1741.7" y="431" textLength="113" lengthAdjust="spacingAndGlyphs">Среднее</text>
      <text x="1741.7" y="461.5" textLength="114" lengthAdjust="spacingAndGlyphs">Тяжелое</text>
    </g>
  </g>
</svg>
</body>
</html>
